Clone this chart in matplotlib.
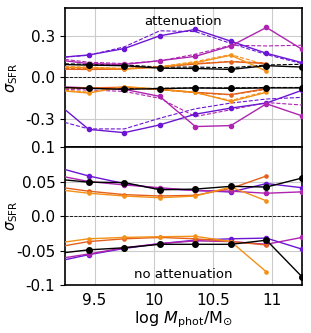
import numpy as np
import matplotlib
matplotlib.use("Agg")
import matplotlib.pyplot as plt

nan = np.nan
mass = [9.15, 9.45, 9.75, 10.05, 10.35, 10.65, 10.95, 11.25]
names = ['purple', 'magenta', 'orred', 'orange', 'black']
colors = {'purple': '#6c16d4', 'magenta': '#ae24b0', 'orred': '#e4601c',
          'orange': '#f39018', 'black': 'black'}

# attenuation, solid (upper / lower)
att_hi = {
    'purple':  [0.14, 0.162, 0.208, 0.30, 0.346, 0.261, 0.174, 0.107],
    'magenta': [0.13, 0.10, 0.094, 0.121, 0.152, 0.227, 0.36, 0.203],
    'orred':   [0.06, 0.058, 0.06, 0.075, 0.097, 0.114, 0.10, nan],
    'orange':  [0.075, 0.07, 0.063, 0.075, 0.106, 0.16, 0.046, nan],
    'black':   [0.095, 0.089, 0.085, 0.067, 0.065, 0.058, 0.085, 0.075],
}
att_lo = {
    'purple':  [-0.16, -0.373, -0.397, -0.341, -0.264, -0.22, -0.184, -0.092],
    'magenta': [-0.065, -0.075, -0.085, -0.136, -0.353, -0.346, -0.189, -0.276],
    'orred':   [-0.07, -0.075, -0.07, -0.085, -0.107, -0.123, -0.08, nan],
    'orange':  [-0.09, -0.112, -0.065, -0.085, -0.107, -0.172, -0.107, nan],
    'black':   [-0.07, -0.078, -0.085, -0.08, -0.075, -0.078, -0.075, -0.075],
}
# attenuation, dashed
att_hi_d = {
    'purple':  [0.14, 0.16, 0.22, 0.336, 0.33, 0.245, 0.165, 0.10],
    'magenta': [0.14, 0.11, 0.10, 0.12, 0.167, 0.232, 0.227, 0.232],
    'orred':   [0.065, 0.065, 0.062, 0.078, 0.10, 0.115, 0.105, nan],
    'orange':  [0.08, 0.075, 0.065, 0.078, 0.115, 0.165, 0.09, nan],
    'black':   [0.1, 0.095, 0.09, 0.075, 0.075, 0.07, 0.09, 0.095],
}
att_lo_d = {
    'purple':  [-0.30, -0.37, -0.37, -0.293, -0.225, -0.184, -0.155, -0.143],
    'magenta': [-0.085, -0.09, -0.10, -0.15, -0.281, -0.232, -0.18, -0.198],
    'orred':   [-0.075, -0.08, -0.072, -0.088, -0.11, -0.125, -0.085, nan],
    'orange':  [-0.085, -0.105, -0.07, -0.088, -0.11, -0.165, -0.1, nan],
    'black':   [-0.07, -0.075, -0.08, -0.078, -0.075, -0.075, -0.072, -0.072],
}
# no attenuation
noatt_hi = {
    'purple':  [0.072, 0.058, 0.047, 0.0397, 0.037, 0.0348, 0.047, 0.041],
    'magenta': [0.06, 0.05, 0.045, 0.041, 0.037, 0.036, 0.033, 0.035],
    'orred':   [0.043, 0.036, 0.031, 0.029, 0.03, 0.04, 0.058, nan],
    'orange':  [0.039, 0.033, 0.029, 0.0265, 0.029, 0.042, 0.022, nan],
    'black':   [0.054, 0.049, 0.0485, 0.038, 0.039, 0.043, 0.042, 0.055],
}
noatt_lo = {
    'purple':  [-0.067, -0.056, -0.047, -0.04, -0.035, -0.033, -0.032, -0.048],
    'magenta': [-0.063, -0.055, -0.046, -0.04, -0.036, -0.037, -0.041, -0.031],
    'orred':   [-0.046, -0.037, -0.033, -0.031, -0.033, -0.037, -0.042, nan],
    'orange':  [-0.04, -0.033, -0.031, -0.03, -0.0294, -0.037, -0.081, nan],
    'black':   [-0.055, -0.049, -0.046, -0.041, -0.041, -0.041, -0.035, -0.088],
}

plt.rcParams['font.size'] = 11

fig = plt.figure(figsize=(3.11, 3.33), dpi=100)
ax1 = fig.add_axes([0.209, 0.5586, 0.762, 0.4174])
ax2 = fig.add_axes([0.209, 0.144, 0.762, 0.4146])


def draw(ax, data, ls, lw, marker):
    for n in names:
        ms = 4 if n == 'black' else (2.3 if n in ('orred', 'orange') else 3)
        ax.plot(mass, data[n], color=colors[n], ls=ls, lw=lw,
                marker=marker, ms=ms if marker else 0, zorder=3)


draw(ax1, att_hi_d, '--', 0.8, None)
draw(ax1, att_lo_d, '--', 0.8, None)
draw(ax1, att_hi, '-', 1.0, 'o')
draw(ax1, att_lo, '-', 1.0, 'o')
draw(ax2, noatt_hi, '-', 1.0, 'o')
draw(ax2, noatt_lo, '-', 1.0, 'o')

ax1.set_ylim(-0.5, 0.5)
ax1.set_yticks([-0.3, 0.0, 0.3])
ax1.set_yticklabels(['-0.3', '0.0', '0.3'])
ax2.set_ylim(-0.1, 0.1)
ax2.set_yticks([-0.1, -0.05, 0.0, 0.05, 0.1])
ax2.set_yticklabels(['-0.1', '-0.05', '0.0', '0.05', '0.1'])

for ax in (ax1, ax2):
    ax.set_xlim(9.25, 11.25)
    ax.set_xticks([9.5, 10, 10.5, 11])
    ax.grid(True, color='#cccccc', lw=0.8, zorder=0)
    ax.axhline(0, color='black', ls='--', lw=0.6, zorder=2)
    ax.set_ylabel(r'$\sigma_{\rm SFR}$', fontsize=10.5)
    ax.yaxis.set_label_coords(-0.19, 0.5)
    ax.tick_params(axis='x', length=0, pad=6)
    for s in ax.spines.values():
        s.set_linewidth(1.2)

ax1.tick_params(axis='x', labelbottom=False)
ax2.set_xticklabels(['9.5', '10', '10.5', '11'])
ax2.set_xlabel(r'log $M_{\rm phot}$/M$_{\odot}$', fontsize=11.5, labelpad=1)

ax1.text(0.5, 0.905, 'attenuation', transform=ax1.transAxes,
         ha='center', va='center', fontsize=9.5)
ax2.text(0.5, 0.08, 'no attenuation', transform=ax2.transAxes,
         ha='center', va='center', fontsize=9.5)

fig.savefig('out.png', dpi=100)
